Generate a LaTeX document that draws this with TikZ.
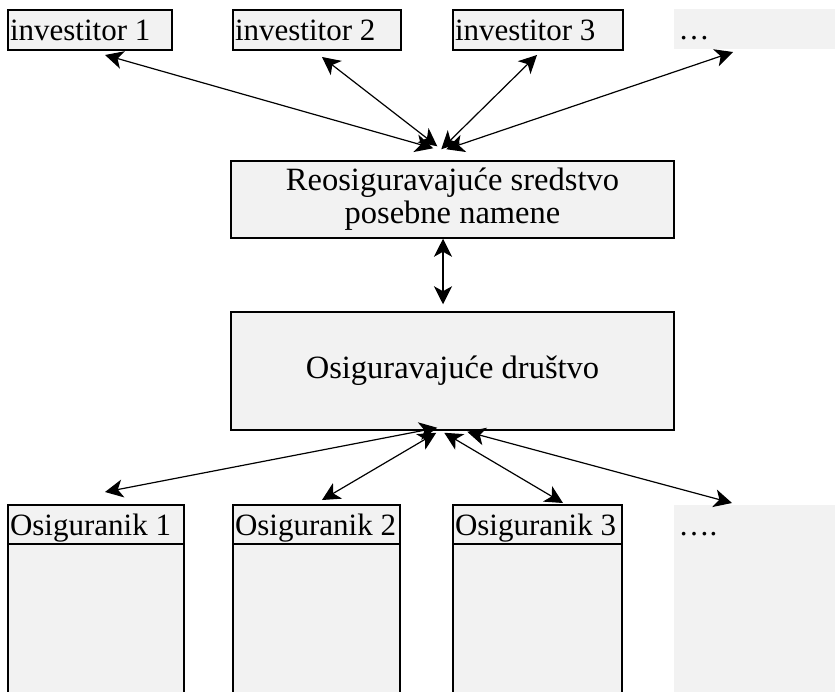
\documentclass[tikz,border=0pt]{standalone}
\usepackage{fontspec}
\setmainfont{Liberation Serif}
\usetikzlibrary{arrows.meta}
\definecolor{boxfill}{HTML}{F2F2F2}
\begin{document}
\begin{tikzpicture}[x=1pt,y=-1pt,
  every node/.style={font=\fontsize{31}{33}\selectfont},
  topbox/.style={draw, line width=2pt, fill=boxfill, anchor=north west, inner xsep=2pt, inner ysep=0pt,
    minimum height=40pt, text height=21pt, text depth=0pt},
  plainbox/.style={topbox, draw=none},
  bodybox/.style={draw, line width=2pt, fill=boxfill, anchor=north west, inner sep=0pt, minimum height=191pt},
  plainbody/.style={bodybox, draw=none},
  headbox/.style={topbox, minimum height=39pt},
  plainhead/.style={headbox, draw=none, fill=none},
  midbox/.style={draw, line width=1.5pt, fill=boxfill, align=center, minimum width=443pt, inner sep=0pt,
    font=\fontsize{32.5}{33}\selectfont},
  conn/.style={{Stealth[length=18pt,width=18pt,inset=5pt]}-{Stealth[length=18pt,width=18pt,inset=5pt]}, line width=1.2pt}
]
\useasboundingbox (0,0) rectangle (835,691);
\clip (0,0) rectangle (835,691);

% investors
\node[topbox] (inv1) at (7,9) {\makebox[160pt][l]{investitor 1}};
\node[topbox] (inv2) at (232,9) {\makebox[164pt][l]{investitor 2}};
\node[topbox] (inv3) at (452,9) {\makebox[166pt][l]{investitor 3}};
\node[plainbox] (inv4) at (673,8) {\makebox[158pt][l]{\ \!…}};

% middle
\node[midbox, minimum height=77pt] (reo) at (452.5,199.5) {Reosiguravajuće sredstvo\\[0pt]posebne namene\rule[-2.5pt]{0pt}{0pt}};
\node[midbox, minimum height=118pt] (soc) at (452.5,371) {Osiguravajuće društvo};

% insured bodies
\node[bodybox, minimum width=176pt] (osig1b) at (7,504) {};
\node[bodybox, minimum width=167pt] (osig2b) at (232,504) {};
\node[bodybox, minimum width=169pt] (osig3b) at (452,504) {};
\node[plainbody, minimum width=162pt] (osig4b) at (673,504) {};
% insured headers
\node[headbox] (osig1) at (7,504) {\makebox[172pt][l]{Osiguranik 1}};
\node[headbox] (osig2) at (232,504) {\makebox[163pt][l]{Osiguranik 2}};
\node[headbox] (osig3) at (452,504) {\makebox[165pt][l]{Osiguranik 3}};
\node[plainhead] (osig4) at (673,504) {\makebox[158pt][l]{\ \!….}};

% connectors top
\draw[conn] ([shift={(98,4)}]inv1.south west) -- ([shift={(203,-12)}]reo.north west);
\draw[conn] ([shift={(90,6)}]inv2.south west) -- ([shift={(207,-14)}]reo.north west);
\draw[conn] ([shift={(85,4)}]inv3.south west) -- ([shift={(211,-11)}]reo.north west);
\draw[conn] ([shift={(60,2)}]inv4.south west) -- ([shift={(216,-11)}]reo.north west);

% middle connector
\draw[conn] ([shift={(-9.5,0)}]reo.south) -- ([shift={(-9.5,-7)}]soc.north);

% connectors bottom
\draw[conn] ([shift={(207,-3)}]soc.south west) -- ([shift={(98,-12)}]osig1.north west);
\draw[conn] ([shift={(206,2)}]soc.south west) -- ([shift={(90,-4)}]osig2.north west);
\draw[conn] ([shift={(214,2)}]soc.south west) -- ([shift={(111,-1)}]osig3.north west);
\draw[conn] ([shift={(237,1)}]soc.south west) -- ([shift={(59,-1)}]osig4.north west);
\end{tikzpicture}
\end{document}
